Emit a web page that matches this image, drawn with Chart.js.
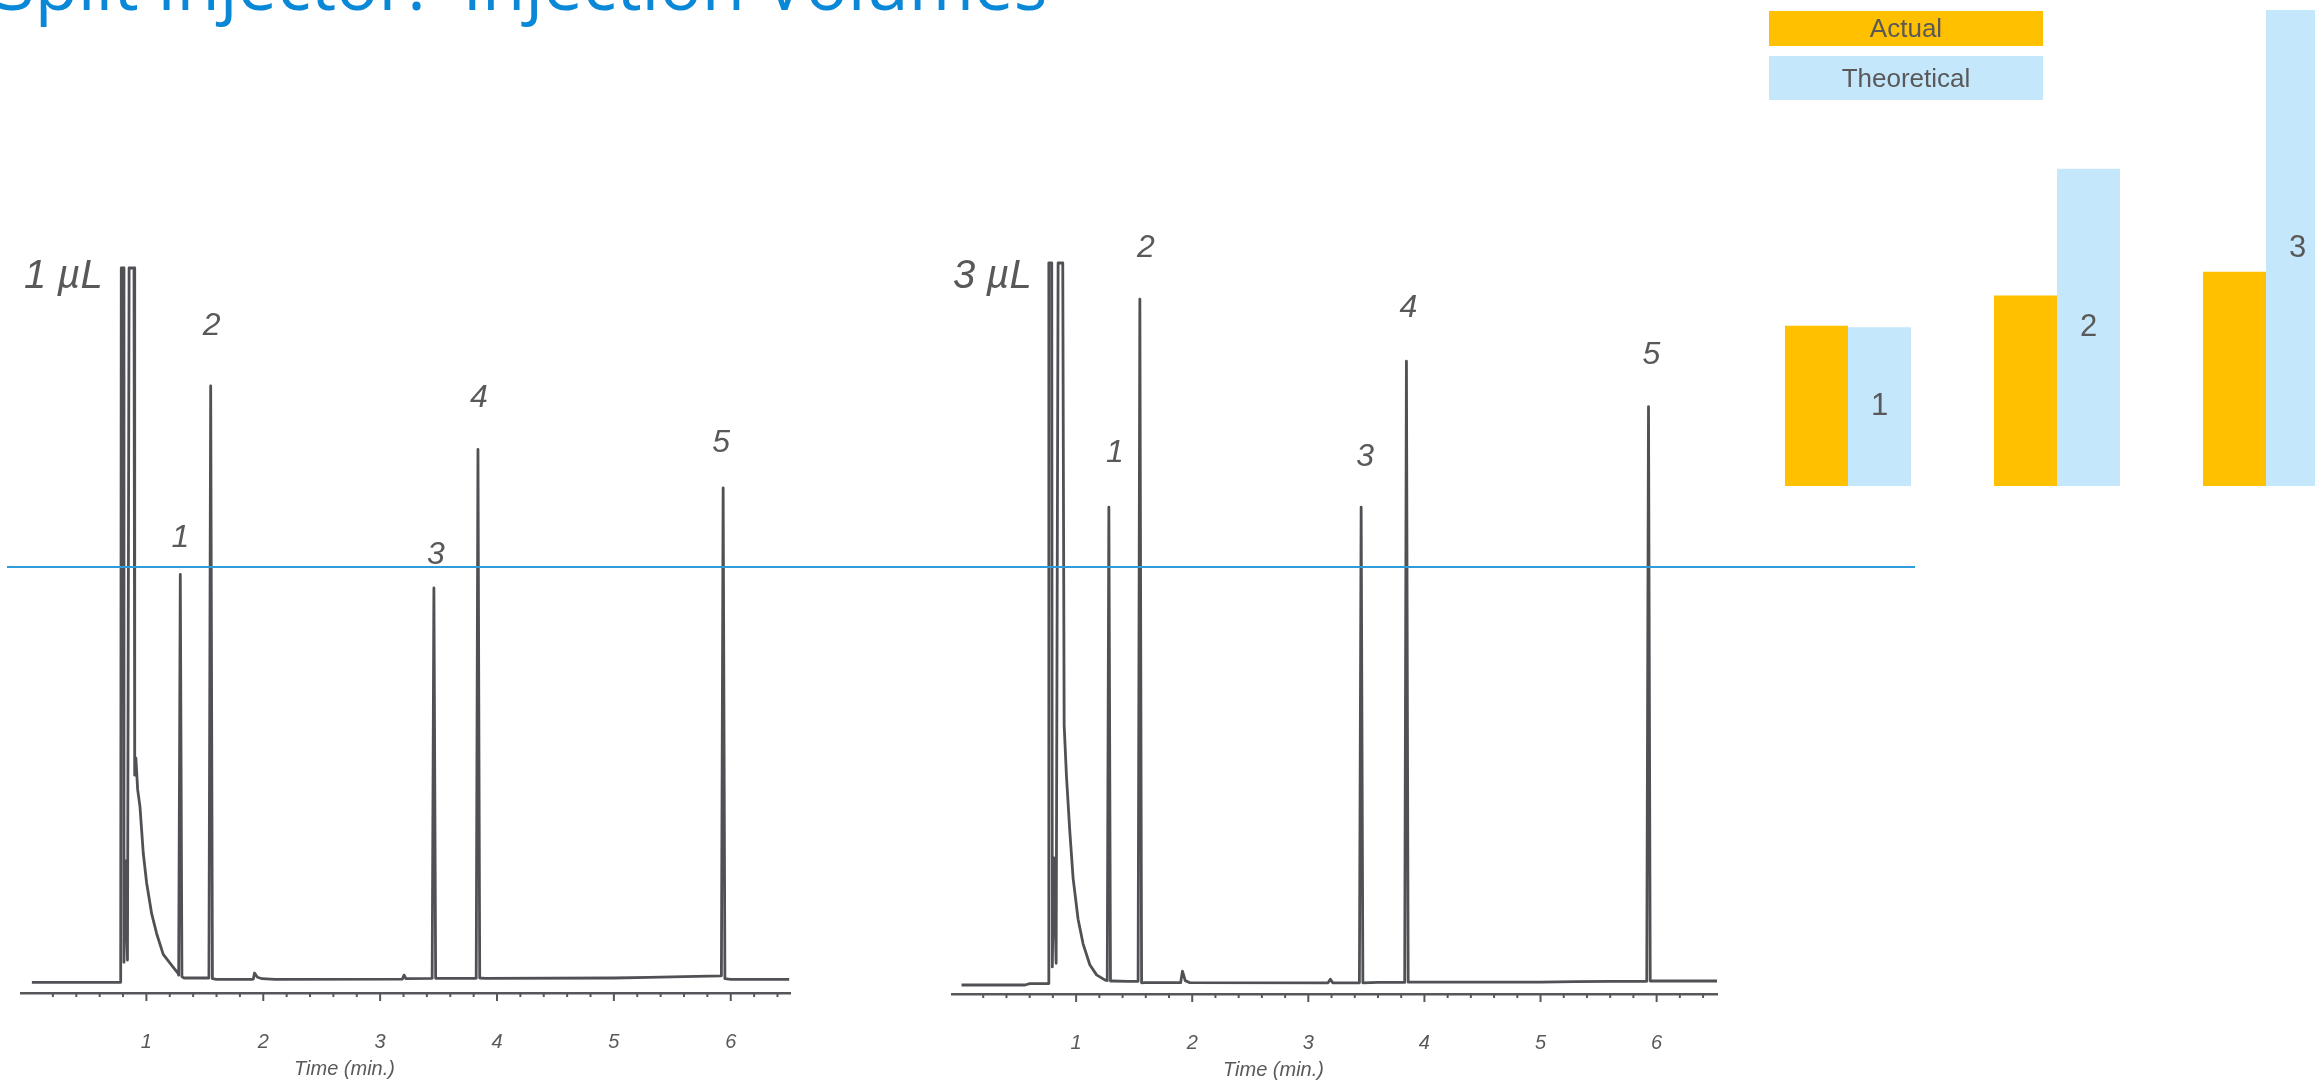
<!DOCTYPE html>
<html lang="en">
<head>
<meta charset="utf-8">
<title>Split Injector: Injection Volumes</title>
<script src="https://cdn.jsdelivr.net/npm/chart.js@4.4.1/dist/chart.umd.min.js"></script>
<style>
  html, body { margin: 0; padding: 0; background: #fff; }
  body { width: 2315px; height: 1082px; overflow: hidden; position: relative; font-family: 'Liberation Sans', Arial, sans-serif; }
  .titre { position: absolute; left: -4px; top: -52px; font-family: 'Open Sans', sans-serif; font-size: 70.5px; line-height: 70.5px; color: #0A88D8; white-space: pre; }
  canvas { position: absolute; }
  #chromLeft { left: 0; top: 200px; }
  #chromRight { left: 930px; top: 200px; }
  #bars { left: 1700px; top: 0; }
  .ligne-ref { position: absolute; left: 7px; top: 566px; width: 1908px; height: 2px; background: #2E9BDB; }
  #legende { position: absolute; left: 1769px; top: 11px; width: 274px; }
  .leg-item { text-align: center; font-size: 26px; color: #595959; margin-bottom: 10px; }
</style>
</head>
<body>
<div class="titre">Split Injector:  Injection Volumes</div>
<canvas id="chromLeft" width="800" height="882"></canvas>
<canvas id="chromRight" width="800" height="882"></canvas>
<canvas id="bars" width="700" height="500"></canvas>
<div id="legende"></div>
<div class="ligne-ref"></div>
<script>
// Chromatogramme 1 µL : temps (min) / signal (% pleine échelle)
const time1uL = [0.02, 0.780, 0.785, 0.803, 0.808, 0.825, 0.838, 0.852, 0.894, 0.900, 0.910, 0.925, 0.945, 0.973, 1.002, 1.045, 1.088, 1.144, 1.230, 1.273,
  1.276, 1.290, 1.304, 1.320, 1.400, 1.535, 1.550, 1.565, 1.600, 1.900, 1.915, 1.925, 1.950, 1.990, 2.100, 3.190, 3.205, 3.220, 3.445, 3.460, 3.475, 3.600,
  3.822, 3.837, 3.852, 3.900, 5.000, 5.300, 5.600, 5.920, 5.935, 5.950, 6.000, 6.500];
const signal1uL = [0, 0, 100, 100, 2.8, 17, 3.1, 100, 100, 29, 31.4, 27, 24.6, 18.1, 13.9, 9.6, 6.8, 3.9, 2.1, 1.2,
  1.0, 57.1, 0.8, 0.6, 0.6, 0.6, 83.5, 0.5, 0.42, 0.42, 0.45, 1.3, 0.7, 0.5, 0.42, 0.45, 1.0, 0.5, 0.55, 55.2, 0.55, 0.56,
  0.56, 74.6, 0.6, 0.56, 0.6, 0.7, 0.8, 0.9, 69.2, 0.5, 0.42, 0.42];
const peakTimes1uL = [1.290, 1.550, 3.460, 3.837, 5.935];

// Chromatogramme 3 µL
const time3uL = [0.013, 0.560, 0.600, 0.760, 0.765, 0.790, 0.795, 0.808, 0.828, 0.845, 0.885, 0.897, 0.917, 0.946, 0.974, 1.017, 1.060, 1.118, 1.176, 1.247,
  1.268, 1.282, 1.296, 1.310, 1.450, 1.534, 1.549, 1.564, 1.590, 1.900, 1.916, 1.940, 1.980, 3.170, 3.190, 3.210, 3.440, 3.455, 3.470, 3.600,
  3.830, 3.845, 3.860, 5.000, 5.300, 5.600, 5.915, 5.930, 5.945, 6.000, 6.520];
const signal3uL = [0, 0, 0.18, 0.2, 100, 100, 2.5, 17.6, 3.0, 100, 100, 36, 28.9, 21.2, 14.8, 9.1, 5.7, 2.8, 1.4, 0.7,
  0.6, 66.2, 0.55, 0.55, 0.5, 0.5, 95.0, 0.3, 0.32, 0.32, 1.9, 0.6, 0.32, 0.3, 0.8, 0.3, 0.3, 66.2, 0.3, 0.35,
  0.35, 86.4, 0.39, 0.4, 0.46, 0.5, 0.5, 80.1, 0.55, 0.55, 0.55];
const peakTimes3uL = [1.282, 1.549, 3.455, 3.845, 5.930];

const peakNames = ['1', '2', '3', '4', '5'];
const majorTicks = [1, 2, 3, 4, 5, 6];

// Volumes : réel vs théorique
const volumeCategories = ['1', '2', '3'];
const actualVolume = [1.01, 1.2, 1.35];
const theoreticalVolume = [1, 2, 3];

// graduations mineures toutes les 0.2 min
const timeTicks = [];
for (let k = 1; k <= 32; k++) timeTicks.push(k / 5);

const C = {
  trace: '#4F5155',
  axis: '#55575A',
  text: '#595959',
  orange: '#FFC000',
  lightBlue: '#C5E7FB'
};
const FONT = '"Liberation Sans", Arial, sans-serif';

// Graduations, numéros de pics, volume injecté et titre d'axe
const chromDecor = {
  id: 'chromDecor',
  afterDraw(chart, args, opts) {
    const { ctx, chartArea, scales: { x, y } } = chart;
    ctx.save();
    ctx.strokeStyle = C.axis;
    ctx.lineWidth = 2;
    x.ticks.forEach(t => {
      const px = x.getPixelForValue(t.value);
      const len = majorTicks.includes(t.value) ? 8 : 4;
      ctx.beginPath();
      ctx.moveTo(px, x.top);
      ctx.lineTo(px, x.top + len);
      ctx.stroke();
    });

    ctx.fillStyle = C.text;
    ctx.font = 'italic 32px ' + FONT;
    ctx.textAlign = 'center';
    ctx.textBaseline = 'middle';
    opts.peaks.forEach((t, i) => {
      const apex = opts.signal[opts.times.indexOf(t)];
      ctx.fillText(peakNames[i], x.getPixelForValue(t) + opts.shift[i][0], y.getPixelForValue(apex) - opts.shift[i][1]);
    });

    ctx.font = 'italic 40px ' + FONT;
    ctx.textAlign = 'left';
    ctx.textBaseline = 'alphabetic';
    ctx.fillText(opts.volume, chartArea.left + opts.volumePos[0], chartArea.top + opts.volumePos[1]);

    ctx.font = 'italic 20px ' + FONT;
    ctx.textAlign = 'center';
    ctx.textBaseline = 'middle';
    ctx.fillText('Time (min.)', (chartArea.left + chartArea.right) / 2 - 61, x.top + 76);
    ctx.restore();
  }
};

function chromatogramme(canvasId, times, signal, cfg) {
  return new Chart(document.getElementById(canvasId), {
    type: 'line',
    data: {
      datasets: [{
        data: times.map((t, i) => ({ x: t, y: signal[i] })),
        borderColor: C.trace,
        borderWidth: 2.8,
        borderJoinStyle: 'round',
        pointRadius: 0,
        tension: 0,
        clip: false
      }]
    },
    options: {
      responsive: false,
      animation: false,
      layout: { padding: cfg.padding },
      scales: {
        x: {
          type: 'linear',
          min: cfg.xMin,
          max: cfg.xMax,
          // marques natives transparentes : elles ne servent qu'à décaler les libellés
          grid: { display: true, drawOnChartArea: false, drawTicks: true, tickLength: 37, tickColor: 'rgba(0,0,0,0)' },
          border: { color: C.axis, width: 2.5 },
          afterBuildTicks: s => { s.ticks = timeTicks.map(v => ({ value: v })); },
          afterFit: s => { s.height = cfg.axisHeight; },
          ticks: {
            autoSkip: false,
            maxRotation: 0,
            padding: 0,
            color: C.text,
            font: { family: FONT, size: 20, style: 'italic' },
            callback: v => majorTicks.includes(v) ? String(v) : ''
          }
        },
        y: { display: false, min: cfg.yMin, max: 100 }
      },
      plugins: {
        legend: { display: false },
        tooltip: { enabled: false },
        chromDecor: {
          times, signal,
          peaks: cfg.peaks,
          shift: cfg.shift,
          volume: cfg.volume,
          volumePos: cfg.volumePos
        }
      }
    },
    plugins: [chromDecor]
  });
}

chromatogramme('chromLeft', time1uL, signal1uL, {
  padding: { left: 21, right: 10, top: 68, bottom: 0 },
  axisHeight: 89,
  xMin: -0.073, xMax: 6.507, yMin: -1.5,
  peaks: peakTimes1uL,
  shift: [[0, 36], [1, 60], [2, 33], [1, 51], [-2, 45]],
  volume: '1 µL',
  volumePos: [3, 20]
});

chromatogramme('chromRight', time3uL, signal3uL, {
  padding: { left: 22, right: 13, top: 63, bottom: 0 },
  axisHeight: 88,
  xMin: -0.069, xMax: 6.52, yMin: -1.25,
  peaks: peakTimes3uL,
  shift: [[6, 54], [6, 51], [4, 50], [2, 53], [3, 52]],
  volume: '3 µL',
  volumePos: [1, 25]
});

// Numéro de volume au milieu de la barre théorique
const barNumbers = {
  id: 'barNumbers',
  afterDatasetsDraw(chart) {
    const { ctx } = chart;
    const meta = chart.getDatasetMeta(1);
    ctx.save();
    ctx.fillStyle = C.text;
    ctx.font = '31px ' + FONT;
    ctx.textAlign = 'center';
    ctx.textBaseline = 'middle';
    meta.data.forEach((bar, i) => {
      ctx.fillText(chart.data.labels[i], bar.x, (bar.y + bar.base) / 2);
    });
    ctx.restore();
  }
};

const volumes = new Chart(document.getElementById('bars'), {
  type: 'bar',
  data: {
    labels: volumeCategories,
    datasets: [
      { label: 'Actual', data: actualVolume, backgroundColor: C.orange, categoryPercentage: 0.603, barPercentage: 1 },
      { label: 'Theoretical', data: theoreticalVolume, backgroundColor: C.lightBlue, categoryPercentage: 0.603, barPercentage: 1 }
    ]
  },
  options: {
    responsive: false,
    animation: false,
    layout: { padding: { left: 43.5, right: 29.5, top: 10, bottom: 14 } },
    scales: {
      x: { display: false },
      y: { display: false, min: 0, max: 3 }
    },
    plugins: { legend: { display: false }, tooltip: { enabled: false } }
  },
  plugins: [barNumbers]
});

// Légende en pavés colorés
const legendHeights = [35, 44];
const legende = document.getElementById('legende');
volumes.data.datasets.forEach((ds, i) => {
  const item = document.createElement('div');
  item.className = 'leg-item';
  item.textContent = ds.label;
  item.style.background = ds.backgroundColor;
  item.style.height = legendHeights[i] + 'px';
  item.style.lineHeight = legendHeights[i] + 'px';
  legende.appendChild(item);
});
</script>
</body>
</html>
